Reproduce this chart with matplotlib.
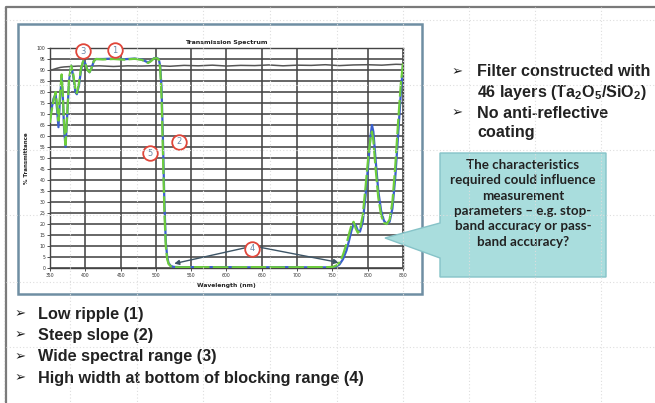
import matplotlib
matplotlib.use("Agg")
import matplotlib.pyplot as plt
from matplotlib.patches import Polygon, Rectangle

plt.rcParams['mathtext.fontset'] = 'custom'
plt.rcParams['mathtext.rm'] = 'Liberation Sans:bold'
plt.rcParams['mathtext.it'] = 'Liberation Sans:bold'
plt.rcParams['mathtext.bf'] = 'Liberation Sans:bold'

# measured transmission, two scans (green / blue) on one wavelength grid
wavelength = [350, 352, 355, 358, 360, 362, 364, 366.5, 368, 370,
              372, 374, 377, 380, 383, 386, 388, 391, 394, 397,
              400, 403, 406, 409, 412, 415, 425, 440, 455, 470,
              480, 485, 489, 493, 497, 501, 504, 506, 508, 510,
              512, 514, 516, 518, 521, 525, 535, 560, 600, 640,
              680, 720, 745, 752, 756, 760, 765, 770, 774, 777,
              780, 783, 786, 789, 793, 797, 801, 804, 806, 808,
              811, 815, 819, 823, 827, 831, 835, 839, 843, 847, 850]
trans_green = [66, 71, 76, 80, 74, 67, 78, 88, 80, 65,
               56, 68, 86, 92, 88, 81, 79.5, 84, 91, 94,
               93, 90, 89, 91, 94, 95, 94.8, 95.0, 94.7, 95.1,
               94.6, 93.8, 93.2, 94.0, 95.2, 95.4, 94.8, 91, 78, 52,
               26, 10, 4, 1.8, 0.8, 0.4, 0.3, 0.4, 0.3, 0.4,
               0.3, 0.4, 0.4, 0.6, 1.2, 2.5, 6, 11, 16, 19.5,
               21, 18, 16, 17.5, 24, 37, 51, 59, 62, 58,
               46, 32, 24, 20.5, 20, 22, 30, 46, 66, 84, 93]
trans_blue = [68, 72, 77, 79, 72, 64, 76, 87, 79, 63,
              55, 67, 85, 92, 87, 80, 79, 83, 90, 94,
              93, 90, 89, 91, 94, 95, 95.0, 95.2, 94.9, 95.2,
              94.8, 94.0, 93.4, 94.2, 95.3, 95.5, 95.0, 92, 82, 58,
              30, 12, 5, 2.2, 1.0, 0.5, 0.4, 0.4, 0.4, 0.3,
              0.4, 0.3, 0.3, 0.4, 0.8, 1.6, 4, 8, 13, 17,
              20, 19.5, 17, 16.5, 21, 33, 48, 60, 65, 62,
              50, 35, 26, 21.5, 20, 21, 27, 41, 60, 80, 92]

# reference (blank) scan
wavelength_ref = [350, 355, 360, 365, 370, 380, 390, 400, 420, 440,
                  460, 480, 500, 520, 540, 560, 580, 600, 620, 640,
                  660, 680, 700, 720, 740, 760, 780, 800, 820, 840, 850]
trans_ref = [89.8, 90.3, 90.8, 91.2, 91.4, 91.6, 91.8, 91.7, 91.9, 91.6,
             91.9, 91.8, 92.0, 91.7, 92.1, 91.9, 92.2, 91.8, 92.1, 92.0,
             92.3, 91.9, 92.2, 92.1, 92.4, 92.0, 92.3, 92.4, 92.2, 92.6, 92.5]

# numbered markers on the spectrum
marker_labels = ["3", "1", "2", "5", "4"]
marker_x = [397, 442, 533, 491, 636]
marker_y = [98.5, 99.0, 57.5, 52.2, 8.7]

# blocking-range arrows: from marker 4 to the band edges
arrow_from = (638, 10)
arrow_to = [(526, 2.0), (759, 2.5)]

x_ticks = list(range(350, 851, 50))
y_ticks = list(range(0, 101, 5))

right_bullets = ["Filter constructed with", "No anti-reflective"]
right_second = [r"46 layers (Ta$_{2}$O$_{5}$/SiO$_{2}$)", "coating"]
bottom_bullets = ["Low ripple (1)", "Steep slope (2)", "Wide spectral range (3)",
                  "High width at bottom of blocking range (4)"]
callout_lines = ["The characteristics", "required could influence", "measurement",
                 "parameters \u2013 e.g. stop-", "band accuracy or pass-", "band accuracy?"]

W, H = 655, 403
fig = plt.figure(figsize=(W / 100, H / 100), dpi=100)
fig.patch.set_facecolor("white")

# ---- chart ----
ax = fig.add_axes([50 / W, 1 - 268 / H, 353 / W, 220 / H])
ax.set_xlim(350, 850)
ax.set_ylim(0, 100)
ax.set_xticks(x_ticks)
ax.set_yticks(y_ticks)
ax.tick_params(labelsize=3.3, length=2, width=0.6, colors="#333333", pad=1.5)
ax.grid(True, color="#454545", lw=1.15)
ax.set_axisbelow(True)
for s in ax.spines.values():
    s.set_color("#444444")
    s.set_linewidth(1)

ax.plot(wavelength_ref, trans_ref, color="#555555", lw=1.1, zorder=3)
ax.plot(wavelength, trans_blue, color="#3a5fcd", lw=1.6, zorder=4)
ax.plot(wavelength, trans_green, color="#6dcc3c", lw=1.6, zorder=5,
        dashes=(7, 1.5))

ax.set_title("Transmission Spectrum", fontsize=4.5, fontweight="bold",
             color="#222222", pad=3)
ax.set_xlabel("Wavelength (nm)", fontsize=4.3, fontweight="bold",
              color="#222222", labelpad=4)
ax.set_ylabel("% Transmittance", fontsize=4.0, fontweight="bold",
              color="#222222", labelpad=5)

for tx in arrow_to:
    ax.annotate("", xy=tx, xytext=arrow_from, zorder=6,
                arrowprops=dict(arrowstyle="-|>", color="#3d5566", lw=1.0,
                                mutation_scale=7, shrinkA=0, shrinkB=0))

ax.plot(marker_x, marker_y, "o", ms=10.5, mfc="white", mec="#e0463a",
        mew=1.3, clip_on=False, zorder=7)
for lab, mx, my in zip(marker_labels, marker_x, marker_y):
    ax.text(mx, my, lab, fontsize=6, color="#6a87a6", ha="center",
            va="center", zorder=8, clip_on=False)

# ---- slide layer (pixel coordinates) ----
ov = fig.add_axes([0, 0, 1, 1], zorder=3)
ov.set_xlim(0, W)
ov.set_ylim(H, 0)
ov.axis("off")
ov.patch.set_alpha(0)

# slide border and chart frame
ov.plot([6, 6, W], [H, 7, 7], color="#7a7a7a", lw=1.6, solid_capstyle="butt")
ov.add_patch(Rectangle((18, 24), 404, 270, fill=False, ec="#6f8ea3", lw=1.8))

# callout box
ov.add_patch(Polygon([(440, 153), (606, 153), (606, 277), (440, 277),
                      (440, 258), (385, 238), (440, 223)], closed=True,
                     fc="#a9dddd", ec="#86c3c8", lw=1.0, zorder=4))
for i, line in enumerate(callout_lines):
    ov.text(523, 165 + i * 15.3, line, fontsize=9.6, fontweight="bold",
            family="Lato", color="#222222", ha="center", va="center", zorder=5)

bullet_font = ["Liberation Sans", "DejaVu Sans"]
for i, (a, b) in enumerate(zip(right_bullets, right_second)):
    y0 = 72 + i * 41
    ov.text(457, y0, "\u27a2", fontsize=9.5, family=bullet_font, color="#1a1a1a",
            ha="center", va="center")
    ov.text(477, y0, a, fontsize=11.6, fontweight="bold", family=bullet_font,
            color="#222222", va="center")
    ov.text(477, y0 + 20, b, fontsize=11.6, fontweight="bold",
            family=bullet_font, color="#222222", va="center")

for i, t in enumerate(bottom_bullets):
    y0 = 314 + i * 21.5
    ov.text(20, y0, "\u27a2", fontsize=9.5, family=bullet_font, color="#1a1a1a",
            ha="center", va="center")
    ov.text(38, y0, t, fontsize=11.7, fontweight="bold", family=bullet_font,
            color="#222222", va="center")

# faint layout guides
for gx in [4, 70, 137, 203, 270, 337, 403, 469, 535, 601]:
    ov.plot([gx, gx], [7, H], color="#dedede", lw=0.8, ls=(0, (1, 2)), zorder=6)
for gy in [20, 85, 150, 215, 282, 347]:
    ov.plot([6, W], [gy, gy], color="#dedede", lw=0.8, ls=(0, (1, 2)), zorder=6)

fig.savefig("out.png", dpi=100)
